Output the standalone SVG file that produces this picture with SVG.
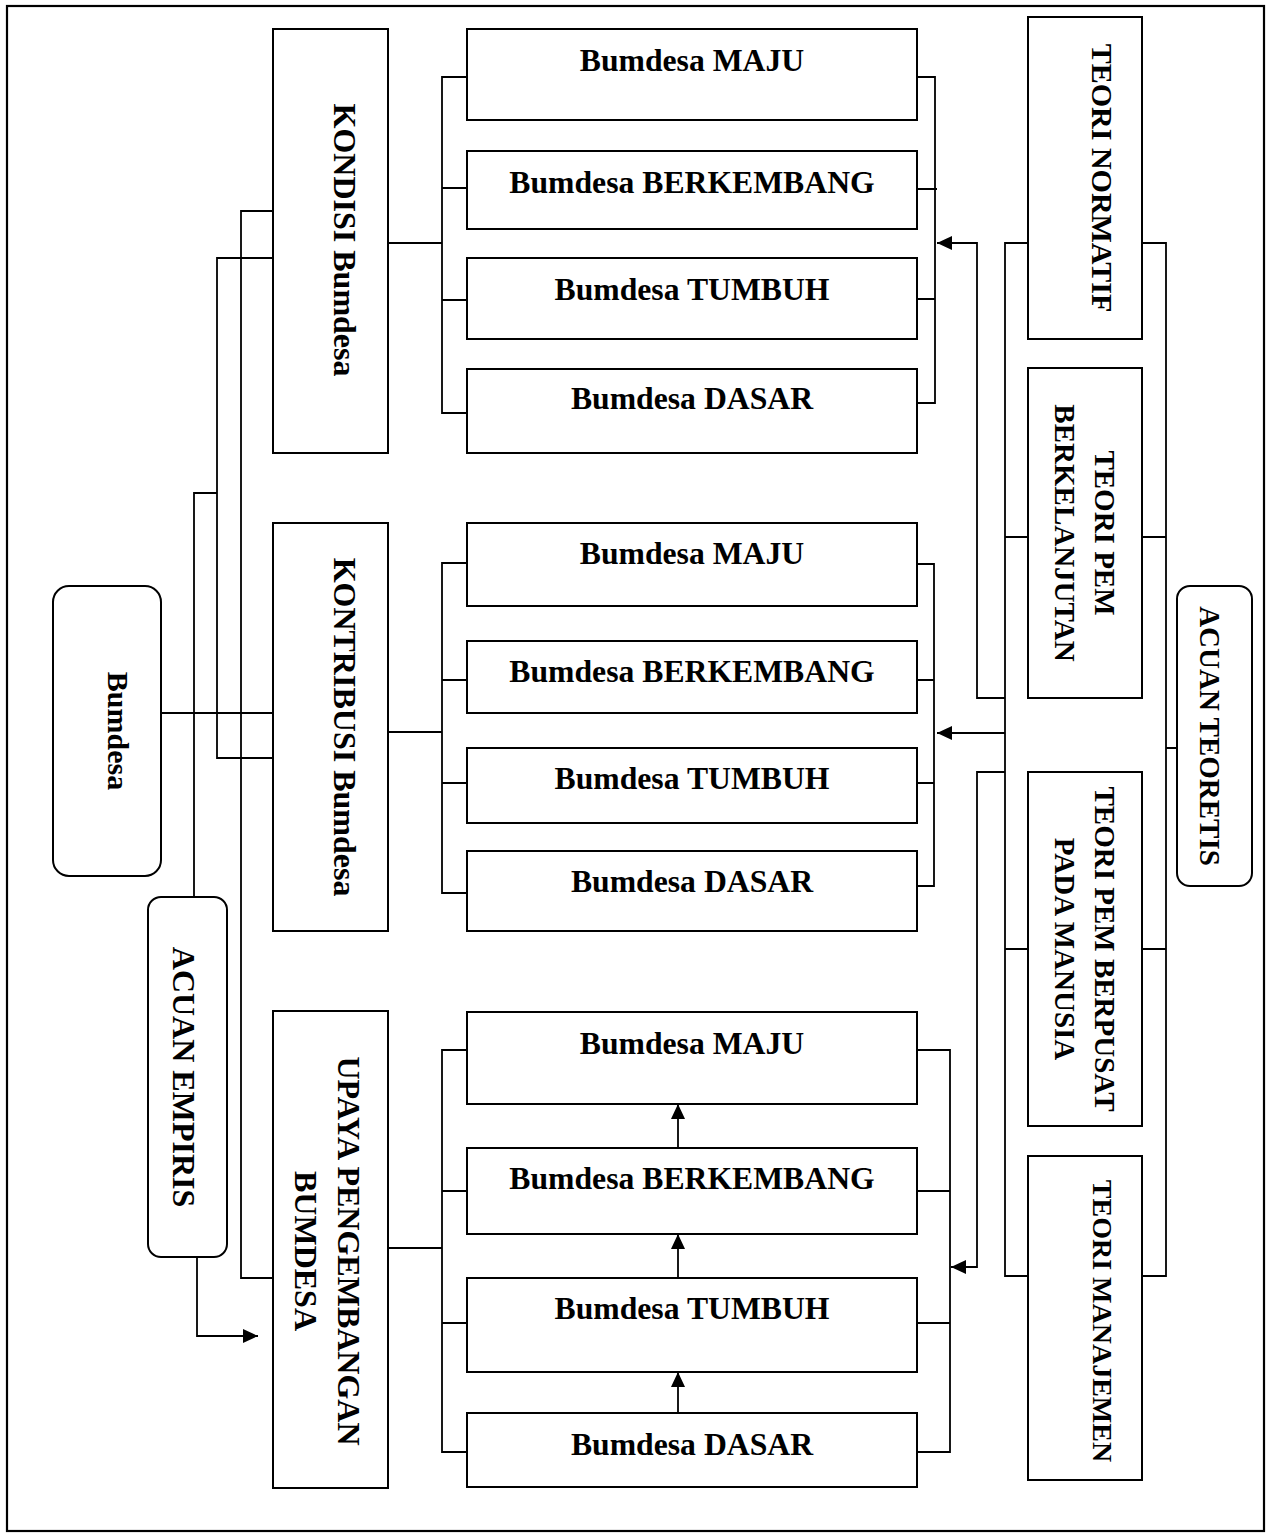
<svg xmlns="http://www.w3.org/2000/svg" width="1271" height="1537" viewBox="0 0 1271 1537">
<style>
.box{fill:#fff;stroke:#000;stroke-width:2}
.ln{fill:none;stroke:#000;stroke-width:1.8}
.t{font-family:"Liberation Serif","Times New Roman",serif;font-weight:bold;fill:#000;text-anchor:middle}
.h{font-size:31.7px}
.v32{font-size:32px}
.v29{font-size:29px}
</style>
<defs>
<marker id="ah" viewBox="0 0 15 14" refX="15" refY="7" markerWidth="15" markerHeight="14" markerUnits="userSpaceOnUse" orient="auto">
<path d="M0,0 L15,7 L0,14 Z" fill="#000"/>
</marker>
</defs>
<rect x="7" y="6" width="1257" height="1525" fill="#fff" stroke="#000" stroke-width="2.2"/>

<g id="connectors">
<path class="ln" d="M161,713 H273"/>
<path class="ln" d="M273,211 H241 V1278 H273"/>
<path class="ln" d="M273,258 H217 V758 H273"/>
<path class="ln" d="M194,897 V493 H217"/>
<path class="ln" d="M197,1257 V1336 H258" marker-end="url(#ah)"/>
<path class="ln" d="M388,243 H442 M467,77 H442 V413 H467 M442,188 H467 M442,300 H467"/>
<path class="ln" d="M388,732 H442 M467,563 H442 V893 H467 M442,680 H467 M442,783 H467"/>
<path class="ln" d="M388,1248 H442 M467,1050 H442 V1452 H467 M442,1191 H467 M442,1323 H467"/>
<path class="ln" d="M917,77 H935 V403 H917 M917,189 H937 M917,299 H935"/>
<path class="ln" d="M917,564 H934 V886 H917 M917,680 H934 M917,783 H934"/>
<path class="ln" d="M917,1050 H950 V1452 H917 M917,1191 H950 M917,1323 H950"/>
<path class="ln" d="M678,1148 V1104" marker-end="url(#ah)"/>
<path class="ln" d="M678,1278 V1234" marker-end="url(#ah)"/>
<path class="ln" d="M678,1413 V1372" marker-end="url(#ah)"/>
<path class="ln" d="M1028,243 H1005 V1276 H1028 M1005,537 H1028 M1005,949 H1028"/>
<path class="ln" d="M1142,243 H1166 V1276 H1142 M1142,537 H1166 M1142,949 H1166 M1166,748 H1177"/>
<path class="ln" d="M1005,698 H977 V243 H937" marker-end="url(#ah)"/>
<path class="ln" d="M1005,733 H937" marker-end="url(#ah)"/>
<path class="ln" d="M1005,772 H977 V1267 H951" marker-end="url(#ah)"/>
</g>

<g id="bumdesa">
<rect class="box" x="53" y="586" width="108" height="290" rx="16"/>
<text class="t" font-size="30" transform="translate(108,731) rotate(90)">Bumdesa</text>
</g>
<g id="acuan-empiris">
<rect class="box" x="148" y="897" width="79" height="360" rx="13"/>
<text class="t v32" transform="translate(173,1077) rotate(90)">ACUAN EMPIRIS</text>
</g>
<g id="kondisi">
<rect class="box" x="273" y="29" width="115" height="424"/>
<text class="t v32" transform="translate(334,240) rotate(90)">KONDISI Bumdesa</text>
</g>
<g id="kontribusi">
<rect class="box" x="273" y="523" width="115" height="408"/>
<text class="t v32" transform="translate(334,727) rotate(90)">KONTRIBUSI Bumdesa</text>
</g>
<g id="upaya">
<rect class="box" x="273" y="1011" width="115" height="477"/>
<text class="t v32" transform="translate(338,1251) rotate(90)">UPAYA PENGEMBANGAN</text>
<text class="t v32" transform="translate(295,1251) rotate(90)">BUMDESA</text>
</g>

<g id="k-maju"><rect class="box" x="467" y="29" width="450" height="91"/><text class="t h" x="692" y="71">Bumdesa MAJU</text></g>
<g id="k-berkembang"><rect class="box" x="467" y="151" width="450" height="78"/><text class="t h" x="692" y="193">Bumdesa BERKEMBANG</text></g>
<g id="k-tumbuh"><rect class="box" x="467" y="258" width="450" height="81"/><text class="t h" x="692" y="300">Bumdesa TUMBUH</text></g>
<g id="k-dasar"><rect class="box" x="467" y="369" width="450" height="84"/><text class="t h" x="692" y="409">Bumdesa DASAR</text></g>

<g id="c-maju"><rect class="box" x="467" y="523" width="450" height="83"/><text class="t h" x="692" y="564">Bumdesa MAJU</text></g>
<g id="c-berkembang"><rect class="box" x="467" y="641" width="450" height="72"/><text class="t h" x="692" y="682">Bumdesa BERKEMBANG</text></g>
<g id="c-tumbuh"><rect class="box" x="467" y="748" width="450" height="75"/><text class="t h" x="692" y="789">Bumdesa TUMBUH</text></g>
<g id="c-dasar"><rect class="box" x="467" y="851" width="450" height="80"/><text class="t h" x="692" y="892">Bumdesa DASAR</text></g>

<g id="u-maju"><rect class="box" x="467" y="1012" width="450" height="92"/><text class="t h" x="692" y="1054">Bumdesa MAJU</text></g>
<g id="u-berkembang"><rect class="box" x="467" y="1148" width="450" height="86"/><text class="t h" x="692" y="1189">Bumdesa BERKEMBANG</text></g>
<g id="u-tumbuh"><rect class="box" x="467" y="1278" width="450" height="94"/><text class="t h" x="692" y="1319">Bumdesa TUMBUH</text></g>
<g id="u-dasar"><rect class="box" x="467" y="1413" width="450" height="74"/><text class="t h" x="692" y="1455">Bumdesa DASAR</text></g>

<g id="teori-normatif">
<rect class="box" x="1028" y="17" width="114" height="322"/>
<text class="t" font-size="30" transform="translate(1092,178) rotate(90)">TEORI NORMATIF</text>
</g>
<g id="teori-berkelanjutan">
<rect class="box" x="1028" y="368" width="114" height="330"/>
<text class="t v29" transform="translate(1095,533) rotate(90)">TEORI PEM</text>
<text class="t v29" transform="translate(1055,533) rotate(90)">BERKELANJUTAN</text>
</g>
<g id="teori-berpusat">
<rect class="box" x="1028" y="772" width="114" height="354"/>
<text class="t v29" transform="translate(1095,949) rotate(90)">TEORI PEM BERPUSAT</text>
<text class="t v29" transform="translate(1055,949) rotate(90)">PADA MANUSIA</text>
</g>
<g id="teori-manajemen">
<rect class="box" x="1028" y="1156" width="114" height="324"/>
<text class="t" font-size="28" transform="translate(1093,1321) rotate(90)">TEORI MANAJEMEN</text>
</g>
<g id="acuan-teoretis">
<rect class="box" x="1177" y="586" width="75" height="300" rx="13"/>
<text class="t v29" transform="translate(1200,736) rotate(90)">ACUAN TEORETIS</text>
</g>
</svg>
